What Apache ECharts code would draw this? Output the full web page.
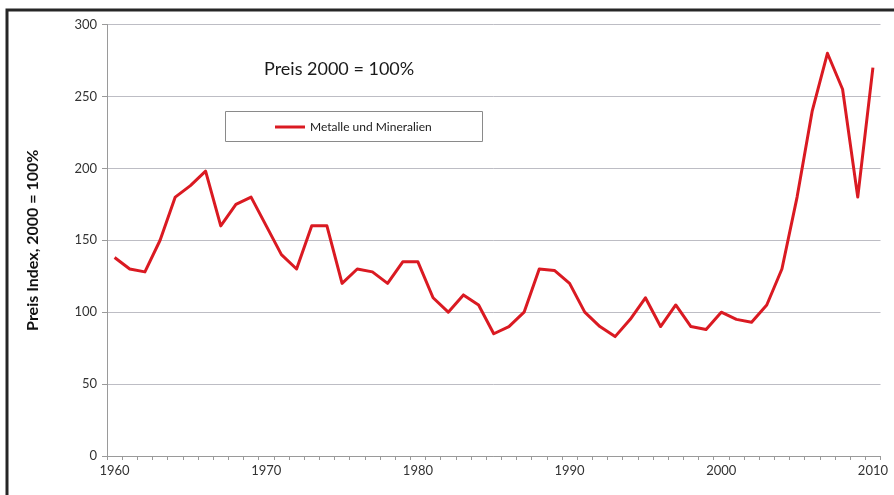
<!DOCTYPE html>
<html>
<head>
<meta charset="utf-8">
<script src="https://cdn.jsdelivr.net/npm/echarts@6/dist/echarts.min.js"></script>
<style>
  html, body { margin: 0; padding: 0; background: #fff; }
  #chart { width: 894px; height: 495px; }
</style>
</head>
<body>
<div id="chart"></div>
<script>
// Years 1960..2010
const years = [];
for (let y = 1960; y <= 2010; y++) years.push(String(y));

// Metals and minerals price index (2000 = 100)
const metalleMineralien = [
  138, 130, 128, 150, 180, 188, 198, 160, 175, 180,
  160, 140, 130, 160, 160, 120, 130, 128, 120, 135,
  135, 110, 100, 112, 105, 85, 90, 100, 130, 129,
  120, 100, 90, 83, 95, 110, 90, 105, 90, 88,
  100, 95, 93, 105, 130, 180, 240, 280, 255, 180,
  270
];

const yTicks = { min: 0, max: 300, interval: 50 };

const seriesName = 'Metalle und Mineralien';
const titleText = 'Preis 2000 = 100%';
const yAxisTitle = 'Preis Index, 2000 = 100%';

const FONT = 'Lato, "Open Sans", sans-serif';

const chart = echarts.init(document.getElementById('chart'), null, { renderer: 'canvas' });

chart.setOption({
  backgroundColor: '#ffffff',
  animation: false,
  textStyle: { fontFamily: FONT },
  title: {
    text: titleText,
    left: 259,
    top: 55,
    textStyle: { fontFamily: FONT, fontSize: 18, fontWeight: 'normal', color: '#1a1a1a' }
  },
  legend: {
    data: [seriesName],
    left: 225,
    top: 112,
    padding: [9, 52, 9, 50],
    itemWidth: 30,
    itemHeight: 3,
    itemGap: 4,
    icon: 'rect',
    textStyle: { fontFamily: FONT, fontSize: 12, color: '#1a1a1a' }
  },
  graphic: [
    {
      // legend frame
      type: 'rect',
      shape: { x: 225.5, y: 111.5, width: 257, height: 30 },
      style: { fill: 'none', stroke: '#8a8a8a', lineWidth: 1 },
      z: 10
    },
    {
      // outer chart border
      type: 'rect',
      shape: { x: 7, y: 10, width: 900, height: 500 },
      style: { fill: 'none', stroke: '#262626', lineWidth: 3 },
      z: 100
    }
  ],
  grid: { left: 107, right: 13.5, top: 24.5, bottom: 39, containLabel: false },
  xAxis: {
    type: 'category',
    data: years,
    boundaryGap: true,
    axisLine: { show: true, lineStyle: { color: '#9a9a9a', width: 1 } },
    axisTick: { show: true, interval: 0, length: 4, lineStyle: { color: '#9a9a9a' } },
    axisLabel: {
      interval: 9,
      margin: 8,
      fontFamily: FONT,
      fontSize: 13,
      color: '#333333'
    },
    splitLine: { show: false }
  },
  yAxis: {
    type: 'value',
    min: yTicks.min,
    max: yTicks.max,
    interval: yTicks.interval,
    name: yAxisTitle,
    nameLocation: 'middle',
    nameGap: 66,
    nameRotate: 90,
    nameTextStyle: { fontFamily: FONT, fontSize: 16, fontWeight: 'bold', color: '#111111' },
    axisLine: { show: true, lineStyle: { color: '#9a9a9a', width: 1 } },
    axisTick: { show: true, length: 5, lineStyle: { color: '#9a9a9a' } },
    axisLabel: { margin: 10, fontFamily: FONT, fontSize: 13, color: '#333333' },
    splitLine: { show: true, lineStyle: { color: '#bdbdc4', width: 1 } }
  },
  series: [
    {
      name: seriesName,
      type: 'line',
      data: metalleMineralien,
      symbol: 'none',
      smooth: false,
      lineStyle: { color: '#da1a22', width: 3, join: 'round' },
      itemStyle: { color: '#da1a22' }
    }
  ]
});
</script>
</body>
</html>
